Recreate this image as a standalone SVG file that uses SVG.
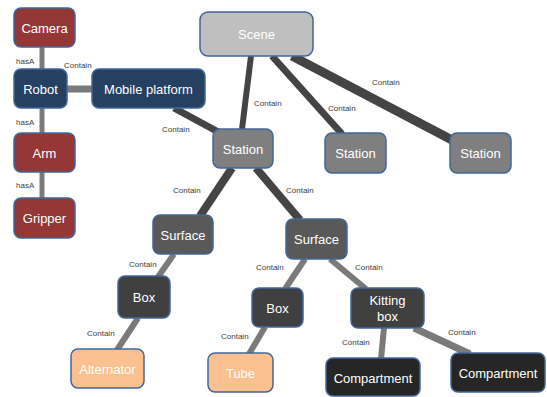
<svg xmlns="http://www.w3.org/2000/svg" width="547" height="397" viewBox="0 0 547 397">
<style>
.n{stroke:#41679a;stroke-width:1.5}
.t{font-family:"Liberation Sans",Arial,sans-serif;font-size:13px;fill:#ffffff;text-anchor:middle;dominant-baseline:central}
.l{font-family:"Liberation Sans",Arial,sans-serif;font-size:8px;fill:#404040;dominant-baseline:central}
.red{fill:#953735}.blue{fill:#254061}.scene{fill:#bfbfbf}.st{fill:#7f7f7f}.sf{fill:#595959}.bx{fill:#404040}.cp{fill:#262626}.or{fill:#fac090}
.cl{stroke:#7a7a7a;fill:none}.cd{stroke:#444444;fill:none}
</style>
<rect width="547" height="397" fill="#ffffff"/>
<g id="connectors">
<line class="cl" x1="42" y1="47" x2="42" y2="69" stroke-width="5"/>
<line class="cl" x1="67" y1="89" x2="92" y2="89" stroke-width="7"/>
<line class="cl" x1="42" y1="108" x2="42" y2="133" stroke-width="5"/>
<line class="cl" x1="42" y1="172" x2="42" y2="198" stroke-width="5"/>
<line class="cd" x1="174" y1="108" x2="222" y2="134" stroke-width="7"/>
<line class="cd" x1="251" y1="56" x2="242" y2="129" stroke-width="6"/>
<line class="cd" x1="272" y1="56" x2="342" y2="134" stroke-width="7"/>
<line class="cd" x1="292" y1="56" x2="452" y2="140" stroke-width="9"/>
<line class="cd" x1="232" y1="168" x2="200" y2="216" stroke-width="8"/>
<line class="cd" x1="256" y1="168" x2="300" y2="220" stroke-width="8"/>
<line class="cl" x1="174" y1="254" x2="158" y2="277" stroke-width="6"/>
<line class="cl" x1="138" y1="318" x2="117" y2="350" stroke-width="6"/>
<line class="cl" x1="305" y1="259" x2="285" y2="289" stroke-width="6"/>
<line class="cl" x1="265" y1="327" x2="249" y2="354" stroke-width="6"/>
<line class="cl" x1="330" y1="259" x2="366" y2="289" stroke-width="6"/>
<line class="cl" x1="384" y1="328" x2="381" y2="359" stroke-width="6"/>
<line class="cl" x1="414" y1="328" x2="470" y2="354" stroke-width="7"/>
</g>
<g id="labels">
<text class="l" x="16" y="61">hasA</text>
<text class="l" x="16" y="122">hasA</text>
<text class="l" x="16" y="185">hasA</text>
<text class="l" x="64" y="65">Contain</text>
<text class="l" x="162" y="129">Contain</text>
<text class="l" x="173" y="190">Contain</text>
<text class="l" x="254" y="103">Contain</text>
<text class="l" x="328" y="108">Contain</text>
<text class="l" x="372" y="82">Contain</text>
<text class="l" x="286" y="190">Contain</text>
<text class="l" x="129" y="264">Contain</text>
<text class="l" x="87" y="333">Contain</text>
<text class="l" x="256" y="267">Contain</text>
<text class="l" x="221" y="336">Contain</text>
<text class="l" x="355" y="267">Contain</text>
<text class="l" x="342" y="342">Contain</text>
<text class="l" x="448" y="332">Contain</text>
</g>
<g id="camera"><rect class="n red" x="14" y="8" width="61" height="39" rx="7"/><text class="t" x="44.5" y="28">Camera</text></g>
<g id="robot"><rect class="n blue" x="14" y="69" width="53" height="39" rx="7"/><text class="t" x="40.5" y="89">Robot</text></g>
<g id="mobile"><rect class="n blue" x="92" y="69" width="113" height="39" rx="7"/><text class="t" x="148.5" y="89">Mobile platform</text></g>
<g id="arm"><rect class="n red" x="14" y="133" width="61" height="39" rx="7"/><text class="t" x="44.5" y="153">Arm</text></g>
<g id="gripper"><rect class="n red" x="14" y="198" width="61" height="40" rx="7"/><text class="t" x="44.5" y="218">Gripper</text></g>
<g id="scene"><rect class="n scene" x="200" y="12" width="113" height="44" rx="8"/><text class="t" x="256.5" y="34">Scene</text></g>
<g id="station1"><rect class="n st" x="213" y="129" width="60" height="39" rx="7"/><text class="t" x="243" y="149">Station</text></g>
<g id="station2"><rect class="n st" x="325" y="133" width="61" height="40" rx="7"/><text class="t" x="355.5" y="153">Station</text></g>
<g id="station3"><rect class="n st" x="450" y="133" width="61" height="40" rx="7"/><text class="t" x="480.5" y="153">Station</text></g>
<g id="surface1"><rect class="n sf" x="153" y="215" width="60" height="39" rx="7"/><text class="t" x="183" y="235">Surface</text></g>
<g id="surface2"><rect class="n sf" x="286" y="219" width="61" height="40" rx="7"/><text class="t" x="316.5" y="239">Surface</text></g>
<g id="box1"><rect class="n bx" x="118" y="276" width="52" height="42" rx="7"/><text class="t" x="144" y="297">Box</text></g>
<g id="box2"><rect class="n bx" x="252" y="288" width="51" height="39" rx="7"/><text class="t" x="277.5" y="308">Box</text></g>
<g id="kitting"><rect class="n bx" x="351" y="288" width="73" height="40" rx="7"/><text class="t" x="387.5" y="300">Kitting</text><text class="t" x="387.5" y="316">box</text></g>
<g id="alternator"><rect class="n or" x="71" y="349" width="73" height="39" rx="7"/><text class="t" x="107.5" y="369">Alternator</text></g>
<g id="tube"><rect class="n or" x="208" y="353" width="65" height="39" rx="7"/><text class="t" x="240.5" y="373">Tube</text></g>
<g id="compartment1"><rect class="n cp" x="326" y="358" width="94" height="38" rx="7"/><text class="t" x="373" y="378">Compartment</text></g>
<g id="compartment2"><rect class="n cp" x="451" y="353" width="94" height="39" rx="7"/><text class="t" x="498" y="373">Compartment</text></g>
</svg>
